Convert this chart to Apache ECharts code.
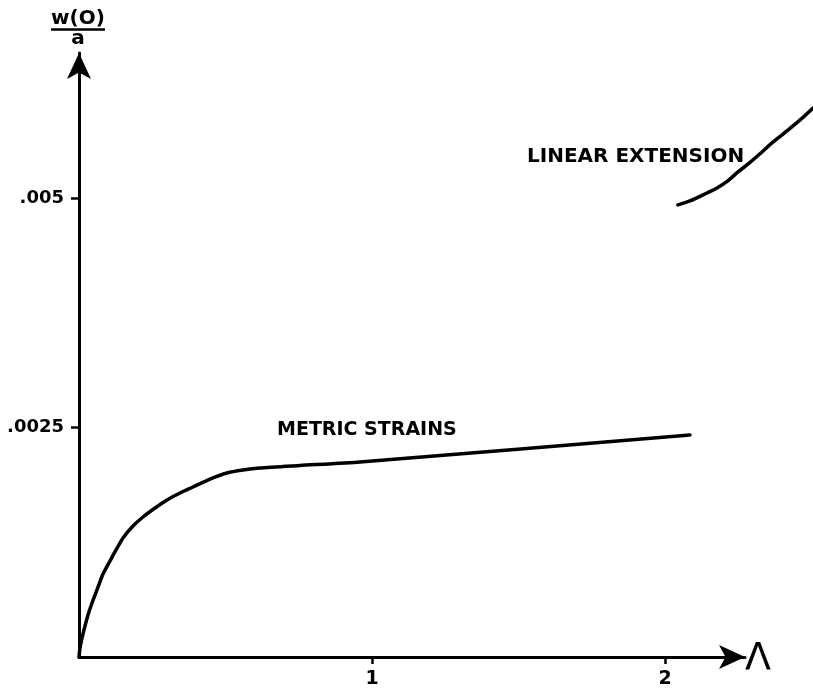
<!DOCTYPE html>
<html>
<head>
<meta charset="utf-8">
<script src="https://cdn.jsdelivr.net/npm/echarts@6/dist/echarts.min.js"></script>
<style>
html,body{margin:0;padding:0;background:#fff;}
#chart{width:813px;height:690px;}
</style>
</head>
<body>
<div id="chart"></div>
<script>
// Data
var xTicks = [1, 2];
var yTicks = [0.0025, 0.005];
var metricStrainsX = [0, 0.0034, 0.0102, 0.0205, 0.0307, 0.0444, 0.0614, 0.0819, 0.1058, 0.1263, 0.1502, 0.1843, 0.2184, 0.2594, 0.3003, 0.3447, 0.3891, 0.4471, 0.5051, 0.5597, 0.6177, 0.7543, 0.9590, 2.0853];
var metricStrainsY = [0, 0.000098, 0.000207, 0.000338, 0.000458, 0.000588, 0.000730, 0.000904, 0.001046, 0.001166, 0.001297, 0.001427, 0.001525, 0.001623, 0.001711, 0.001787, 0.001852, 0.001939, 0.002005, 0.002037, 0.002059, 0.002086, 0.002125, 0.002419];
var linearExtX = [2.044, 2.085, 2.143, 2.1775, 2.212, 2.2491, 2.290, 2.331, 2.369, 2.416, 2.461, 2.505];
var linearExtY = [0.004925, 0.004968, 0.005055, 0.005110, 0.005181, 0.005284, 0.005388, 0.005502, 0.005611, 0.005731, 0.005851, 0.005981];
var seriesNames = ['METRIC STRAINS', 'LINEAR EXTENSION'];
var yTitleTop = 'w(O)';
var yTitleBottom = 'a';
var xTitle = 'Λ';

function pairs(xs, ys) { return xs.map(function (x, i) { return [x, ys[i]]; }); }

var FONT = 'DejaVu Sans';
var Y_MAX = 0.00658;
var chart = echarts.init(document.getElementById('chart'), null, {renderer: 'canvas'});
chart.setOption({
  animation: false,
  backgroundColor: '#ffffff',
  grid: [
    {left: 79, right: 68, top: 53, bottom: 33, containLabel: false},
    {left: 79, right: 0, top: 53, bottom: 33, containLabel: false}
  ],
  xAxis: [{
    gridIndex: 0, type: 'value', min: 0, max: 2.273, interval: 1,
    splitLine: {show: false},
    axisLine: {show: true, lineStyle: {color: '#000', width: 3}, symbol: ['none', 'arrow'], symbolSize: [18, 26]},
    axisTick: {show: true, inside: false, length: 7, lineStyle: {color: '#000', width: 2.5}, customValues: xTicks},
    axisLabel: {show: true, margin: 13, color: '#000', fontFamily: FONT, fontWeight: 'bold', fontSize: 19, customValues: xTicks}
  }, {
    gridIndex: 1, type: 'value', min: 0, max: 2.505, show: false
  }],
  yAxis: [{
    gridIndex: 0, type: 'value', min: 0, max: Y_MAX, interval: 0.0025,
    splitLine: {show: false},
    axisLine: {show: true, lineStyle: {color: '#000', width: 3}, symbol: ['none', 'arrow'], symbolSize: [18, 26]},
    axisTick: {show: true, inside: false, length: 8, lineStyle: {color: '#000', width: 2.5}, customValues: yTicks},
    axisLabel: {show: true, margin: 15, color: '#000', fontFamily: FONT, fontWeight: 'bold', fontSize: 18, customValues: yTicks,
      formatter: function (v) { return String(v).replace(/^0/, ''); }}
  }, {
    gridIndex: 1, type: 'value', min: 0, max: Y_MAX, show: false
  }],
  series: [
    {name: seriesNames[0], type: 'line', xAxisIndex: 0, yAxisIndex: 0, data: pairs(metricStrainsX, metricStrainsY),
      showSymbol: false, symbol: 'none', smooth: 0.2, lineStyle: {color: '#000', width: 3.5, join: 'round', cap: 'round'}},
    {name: seriesNames[1], type: 'line', xAxisIndex: 1, yAxisIndex: 1, data: pairs(linearExtX, linearExtY),
      showSymbol: false, symbol: 'none', smooth: 0.3, lineStyle: {color: '#000', width: 3.5, join: 'round', cap: 'round'}}
  ],
  graphic: [
    {type: 'text', left: 277, top: 421, style: {text: seriesNames[0], fill: '#000', font: 'bold 19px "DejaVu Sans"'}},
    {type: 'text', left: 527, top: 147, style: {text: seriesNames[1], fill: '#000', font: 'bold 20px "DejaVu Sans"'}},
    {type: 'text', x: 78, y: 19, style: {text: yTitleTop, fill: '#000', font: 'bold 20px "DejaVu Sans"', align: 'center', verticalAlign: 'middle'}},
    {type: 'line', shape: {x1: 51, y1: 29.5, x2: 105, y2: 29.5}, style: {stroke: '#000', lineWidth: 2.5}},
    {type: 'text', x: 78, y: 39, style: {text: yTitleBottom, fill: '#000', font: 'bold 20px "DejaVu Sans"', align: 'center', verticalAlign: 'middle'}},
    {type: 'text', x: 745, y: 678, style: {text: xTitle, fill: '#000', font: '38px "DejaVu Sans"', align: 'left', verticalAlign: 'bottom'}}
  ]
});
</script>
</body>
</html>
